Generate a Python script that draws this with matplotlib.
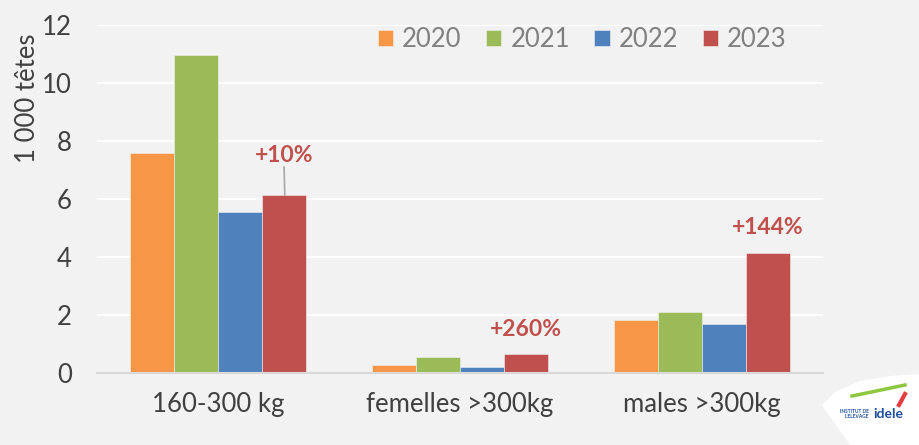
import matplotlib
matplotlib.use("Agg")
import matplotlib.pyplot as plt
from matplotlib.patches import Polygon
import numpy as np

categories = ["160-300 kg", "femelles >300kg", "males >300kg"]
years = ["2020", "2021", "2022", "2023"]
v2020 = [7.6, 0.27, 1.84]
v2021 = [10.97, 0.55, 2.1]
v2022 = [5.55, 0.2, 1.69]
v2023 = [6.14, 0.66, 4.14]
pct_labels = ["+10%", "+260%", "+144%"]
colors = ["#F79646", "#9BBB59", "#4F81BD", "#C0504D"]

plt.rcParams['font.family'] = ['Lato', 'DejaVu Sans']
bg = "#F2F2F2"
fig = plt.figure(figsize=(9.19, 4.45), dpi=100, facecolor=bg)
ax = fig.add_axes([97/919, 1-373/445, 726/919, 348/445], facecolor=bg)

x = np.arange(len(categories))
w = 0.182
series = [v2020, v2021, v2022, v2023]
for i, (vals, c, yr) in enumerate(zip(series, colors, years)):
    ax.bar(x + (i - 1.5) * w, vals, w, color=c, label=yr, zorder=3,
           edgecolor=bg, linewidth=0.4)

ax.set_xlim(-0.5, 2.5)
ax.set_ylim(0, 12)
ax.set_yticks(np.arange(0, 13, 2))
ax.yaxis.grid(True, color="white", linewidth=1.5, zorder=0)
ax.set_axisbelow(True)
for s in ["top", "right", "left"]:
    ax.spines[s].set_visible(False)
ax.spines["bottom"].set_color("#D9D9D9")
ax.spines["bottom"].set_linewidth(1.5)
ax.spines["bottom"].set_zorder(4)
ax.tick_params(axis="both", length=0, labelsize=18.5, colors="#404040")
ax.tick_params(axis="y", pad=18)
ax.tick_params(axis="x", pad=14)
ax.set_xticks(x)
ax.set_xticklabels(categories)
ax.set_ylabel("1 000 têtes", fontsize=18.5, color="#404040")
ax.yaxis.set_label_coords(-0.078, 0.79)

# percentage labels above 2023 bars
red = "#C0504D"
x23 = x + 1.5 * w
label_y = [7.5, 1.5, 5.0]
for xi, v, lab, ly in zip(x23, v2023, pct_labels, label_y):
    ax.text(xi, ly, lab, ha="center", va="center", fontsize=16.5,
            fontweight="bold", color=red, zorder=5)
ax.plot([x23[0], x23[0] + 0.003], [7.1, v2023[0]], color="#A6A6A6",
        linewidth=1.2, zorder=4)

leg = ax.legend(loc="upper right", bbox_to_anchor=(0.982, 1.06), ncol=4,
                frameon=False, fontsize=18.5, handlelength=0.6,
                handleheight=0.6, handletextpad=0.35, columnspacing=0.95,
                labelcolor="#808080")

# logo approximation (pixel coordinates, origin bottom-left)
H = 445
pts = [[822, H-405], [835, H-392], [860, H-381], [890, H-376], [919, H-374],
       [919, 0], [850, 0]]
logo = Polygon(pts, closed=True, transform=None, facecolor="white",
               edgecolor="none", zorder=0)
fig.patches.append(logo)
fig.text(903/919, 1-414/445, "idele", fontsize=10, fontweight="bold",
         color="#1F4E9E", ha="right", va="center")
fig.text(869/919, 1-414/445, "INSTITUT DE\nL'ELEVAGE", fontsize=3.5,
         fontweight="bold", color="#1F4E9E", ha="right", va="center",
         linespacing=1.0)
fig.add_artist(plt.Line2D([852/919, 905/919], [1-396/445, 1-385/445],
                          color="#8DC63F", linewidth=2.5))
fig.add_artist(plt.Line2D([899/919, 905/919], [1-405/445, 1-394/445],
                          color="#E63E3E", linewidth=3))

fig.savefig("out.png", dpi=100, facecolor=bg)
